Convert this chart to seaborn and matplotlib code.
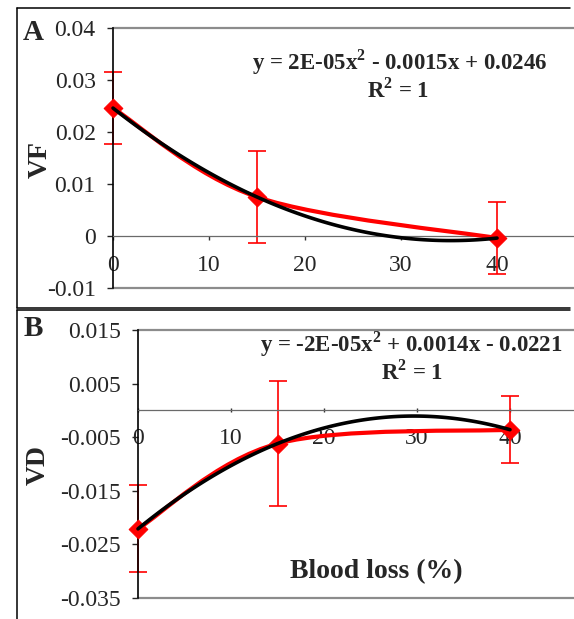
import matplotlib
matplotlib.use("Agg")
import matplotlib.pyplot as plt
from matplotlib.path import Path
from matplotlib.patches import PathPatch
from matplotlib.lines import Line2D
import numpy as np
import seaborn as sns

# values
blood_loss = np.array([0, 15, 40])
vf_mean = np.array([0.0246, 0.0075, -0.0004])
vf_err = np.array([0.0069, 0.0088, 0.0069])
vd_mean = np.array([-0.0221, -0.0062, -0.0036])
vd_err = np.array([0.0081, 0.0116, 0.0063])

x_ticks = [0, 10, 20, 30, 40]
vf_ticks = [-0.01, 0, 0.01, 0.02, 0.03, 0.04]
vf_tick_labels = ["-0.01", "0", "0.01", "0.02", "0.03", "0.04"]
vd_ticks = [-0.035, -0.025, -0.015, -0.005, 0.005, 0.015]
vd_tick_labels = ["-0.035", "-0.025", "-0.015", "-0.005", "0.005", "0.015"]

vf_equation = r"y = 2E-05x$^{\mathbf{2}}$ - 0.0015x + 0.0246"
vd_equation = r"y = -2E-05x$^{\mathbf{2}}$ + 0.0014x - 0.0221"
r2_text = r"R$^{\mathbf{2}}$ = 1"

sns.set_style("ticks")
plt.rcParams['font.family'] = ['Liberation Serif', 'DejaVu Serif']
plt.rcParams['mathtext.fontset'] = 'custom'
plt.rcParams['mathtext.rm'] = 'Liberation Serif'
plt.rcParams['mathtext.bf'] = 'Liberation Serif:bold'

W, H = 574, 619
fig = plt.figure(figsize=(W / 100, H / 100), dpi=100)


def fx(px):
    return px / W


def fy(py):
    return 1 - py / H


def smooth_path(xs, ys):
    """Excel style smoothed line through the points (bezier, 1/6 tangents)"""
    pts = np.column_stack([xs, ys]).astype(float)
    n = len(pts)
    verts = [pts[0]]
    codes = [Path.MOVETO]
    for i in range(n - 1):
        prev = pts[max(i - 1, 0)]
        nxt = pts[min(i + 2, n - 1)]
        verts += [pts[i] + (pts[i + 1] - prev) / 6,
                  pts[i + 1] - (nxt - pts[i]) / 6,
                  pts[i + 1]]
        codes += [Path.CURVE4] * 3
    return Path(verts, codes)


def draw_panel(ax, means, errs, yticks, ylabels, ylim, xtick_dir):
    eb = ax.errorbar(blood_loss, means, yerr=errs, fmt='none', ecolor='red',
                     elinewidth=1.2, capsize=6.5, capthick=1.2, zorder=2)
    for art in eb.get_children():
        art.set_clip_on(False)
    ax.add_patch(PathPatch(smooth_path(blood_loss, means), fill=False,
                           edgecolor='red', lw=3, zorder=3, clip_on=False))
    sns.scatterplot(x=blood_loss, y=means, marker='D', color='red',
                    edgecolor='red', s=90, zorder=4, ax=ax, legend=False,
                    clip_on=False)
    # 2nd order polynomial trend line
    sns.regplot(x=blood_loss, y=means, order=2, ci=None, scatter=False,
                truncate=True, ax=ax,
                line_kws=dict(color='black', lw=2.6, zorder=5, clip_on=False))

    ax.set_xlim(0, 50)
    ax.set_ylim(*ylim)
    ax.set_xticks(x_ticks)
    ax.set_xticklabels([str(t) for t in x_ticks])
    ax.set_yticks(yticks)
    ax.set_yticklabels(ylabels)
    ax.set_xlabel('')
    ax.set_ylabel('')

    ax.spines['bottom'].set_position(('data', 0))
    ax.spines['bottom'].set_color('#6a6a6a')
    ax.spines['bottom'].set_linewidth(0.9)
    ax.spines['left'].set_color('black')
    ax.spines['left'].set_linewidth(1.2)
    ax.spines['top'].set_visible(False)
    ax.spines['right'].set_visible(False)
    # plot area border (top and bottom)
    for yv in ylim:
        ax.axhline(yv, color='#8c8c8c', lw=1.6, clip_on=False, zorder=1)

    ax.tick_params(axis='y', direction='out', length=4.5, width=1,
                   pad=8, labelsize=17, left=True)
    ax.tick_params(axis='x', direction=xtick_dir, length=3, width=1,
                   pad=11, labelsize=17, bottom=True, color='#333333')
    ax.patch.set_alpha(0)


ax_a = fig.add_axes([fx(113), fy(288), 480 / W, 260 / H])
draw_panel(ax_a, vf_mean, vf_err, vf_ticks, vf_tick_labels, (-0.01, 0.04), 'out')

ax_b = fig.add_axes([fx(138), fy(598), 465 / W, 268 / H])
draw_panel(ax_b, vd_mean, vd_err, vd_ticks, vd_tick_labels, (-0.035, 0.015), 'inout')

# outer panel frames
frame_lines = [
    ([17, 570], [8, 8]), ([17, 17], [8, 308]), ([17, 570], [308, 308]),
    ([17, 570], [310, 310]), ([17, 17], [310, 619]),
]
for xs, ys in frame_lines:
    fig.add_artist(Line2D([fx(v) for v in xs], [fy(v) for v in ys],
                          transform=fig.transFigure, color='black', lw=1.1))

# panel letters and labels
fig.text(fx(33), fy(32), 'A', fontsize=21, fontweight='bold', ha='center', va='center')
fig.text(fx(33), fy(328), 'B', fontsize=21, fontweight='bold', ha='center', va='center')
fig.text(fx(40), fy(160), 'VF', fontsize=20, fontweight='bold', rotation=90,
         ha='center', va='center')
fig.text(fx(38), fy(465), 'VD', fontsize=20, fontweight='bold', rotation=90,
         ha='center', va='center')

eq_kw = dict(fontsize=16.5, fontweight='bold', ha='center', va='center')
fig.text(fx(400), fy(62), vf_equation, **eq_kw)
fig.text(fx(398), fy(90), r2_text, **eq_kw)
fig.text(fx(411), fy(344), vd_equation, **eq_kw)
fig.text(fx(412), fy(372), r2_text, **eq_kw)

fig.text(fx(376), fy(572), 'Blood loss (%)', fontsize=20, fontweight='bold',
         ha='center', va='center')

fig.savefig('out.png', dpi=100)
